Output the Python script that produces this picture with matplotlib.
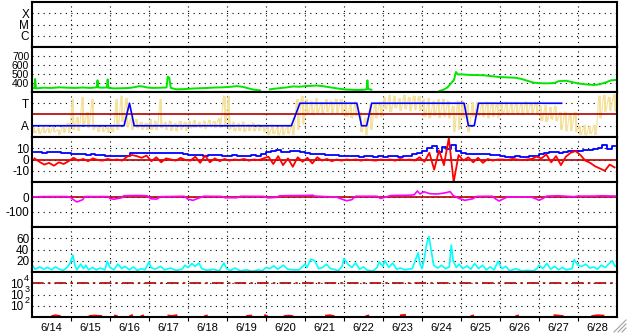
import numpy as np
from matplotlib import pyplot as plt
from matplotlib.lines import Line2D

plt.rcParams['font.family'] = ['Liberation Sans', 'DejaVu Sans']

nan = np.nan
day_labels = ['6/14', '6/15', '6/16', '6/17', '6/18', '6/19', '6/20', '6/21',
              '6/22', '6/23', '6/24', '6/25', '6/26', '6/27', '6/28']

# solar wind speed (km/s), time in days from 6/14 00:00
speed_t = [0.0, 0.06, 0.08, 0.1, 0.3, 0.5, 0.7, 0.9, 1.1, 1.3, 1.5, 1.66, 1.68, 1.7, 1.8,
           1.92, 1.94, 1.96, 2.1, 2.3, 2.5, 2.65, 2.75, 2.85, 2.95, 3.1, 3.3, 3.45, 3.48,
           3.52, 3.56, 3.7, 3.9, 4.1, 4.3, 4.5, 4.7, 4.9, 5.1, 5.25, 5.4, 5.55, 5.7, 5.85,
           5.95, 6.1, 6.25, 6.4, 6.55, 6.7, 6.85, 7.0, 7.15, 7.3, 7.45, 7.6, 7.75, 7.9,
           8.05, 8.2, 8.35, 8.5, 8.58, 8.6, 8.62, 8.7, 8.75, 10.45, 10.55, 10.65, 10.75,
           10.82, 10.87, 10.92, 11.05, 11.2, 11.4, 11.6, 11.8, 12.0, 12.2, 12.4, 12.55,
           12.7, 12.85, 13.0, 13.2, 13.4, 13.5, 13.7, 13.85, 14.0, 14.2, 14.4, 14.55,
           14.7, 14.85, 15.0]
speed_v = [340, 345, 445, 340, 348, 345, 352, 348, 345, 350, 345, 352, 430, 350, 348,
           350, 440, 345, 340, 342, 345, 355, 365, 360, 350, 345, 348, 350, 470,
           460, 345, 330, 332, 338, 342, 345, 350, 352, 358, 365, 358, 340, 325, 318,
           nan, 330, 338, 345, 352, 362, 358, 365, 368, 372, 365, 355, 345, 335,
           328, 325, 322, 325, 330, 430, 335, 325, nan, 312, 325, 350, 400,
           435, 522, 495, 495, 490, 488, 485, 475, 466, 462, 458, 445,
           425, 405, 398, 396, 400, 420, 425, 410, 395, 385, 378, 385,
           405, 430, 435]

# IMF phi angle range (deg), 3-hourly low / high
phi_lo = [30, 25, 35, 30, 40, 20, 35, 30,
          60, 50, 90, 70, 60, 40, 40, 35,
          40, 60, 120, 80, 60, 70, 60, 55,
          60, 55, 70, 60, 50, 45, 60, 50,
          70, 75, 70, 65, 80, 70, 75, 80,
          60, 45, 50, 43, 50, 45, 50, 40,
          20, 25, 16, 20, 25, 20, 60, 100,
          180, 176, 190, 180, 200, 185, 190, 180,
          160, 150, 170, 40, 16, 60, 150, 160,
          220, 203, 230, 210, 220, 205, 215, 210,
          160, 150, 170, 155, 160, 150, 40, 60,
          150, 40, 160, 170, 160, 150, 160, 155,
          180, 176, 185, 180, 176, 180, 185, 180,
          130, 123, 140, 125, 60, 45, 50, 43,
          20, 16, 25, 20, 150, 203, 210, 205]
phi_hi = [80, 70, 90, 75, 85, 60, 85, 110,
          300, 160, 320, 200, 300, 90, 95, 80,
          90, 300, 330, 310, 150, 140, 120, 110,
          140, 130, 300, 120, 130, 110, 125, 120,
          130, 136, 120, 130, 136, 125, 150, 330,
          330, 120, 110, 123, 100, 115, 100, 90,
          90, 96, 80, 90, 85, 95, 300, 330,
          300, 290, 309, 280, 300, 290, 305, 300,
          280, 270, 283, 200, 150, 260, 270, 280,
          320, 336, 330, 310, 336, 320, 330, 325,
          300, 309, 290, 300, 305, 290, 250, 290,
          290, 260, 280, 283, 270, 280, 275, 270,
          280, 283, 275, 280, 270, 283, 275, 280,
          250, 256, 240, 250, 200, 203, 190, 200,
          90, 96, 85, 95, 330, 336, 320, 340]

# sector polarity (A=90, T=270)
sector_t = [0, 2.36, 2.5, 2.62, 6.65, 6.87, 8.33, 8.45, 8.58, 8.71, 11.08, 11.19, 11.34, 11.45, 13.58]
sector_v = [90, 90, 270, 90, 90, 270, 270, 90, 90, 270, 270, 90, 90, 270, 270]

# IMF Bt and Bz (nT), 3-hourly
bt = [6.5, 6.8, 6.2, 6.5, 7.0, 6.6, 6.0, 5.5,
      5.0, 4.5, 5.2, 4.0, 4.6, 3.8, 4.2, 3.5,
      3.2, 3.0, 2.8, 3.4, 5.5, 6.0, 6.2, 5.8,
      6.0, 5.8, 6.2, 5.6, 6.0, 5.5, 5.8, 5.2,
      4.0, 4.2, 3.8, 3.5, 4.0, 3.6, 3.8, 3.2,
      3.5, 3.8, 3.2, 3.0, 3.4, 3.6, 3.0, 4.5,
      6.5, 7.8, 8.5, 7.0, 6.8, 7.5, 7.2, 6.8,
      5.5, 5.0, 4.5, 4.8, 4.2, 4.0, 3.8, 3.5,
      3.0, 2.8, 3.2, 2.6, 3.0, 2.8, 2.5, 2.8,
      2.6, 3.0, 2.8, 2.5, 3.0, 3.5, 5.0, 6.0,
      8.0, 10.0, 12.0, 7.0, 11.5, 9.0, 12.5, 8.0,
      5.5, 5.0, 4.5, 5.2, 4.8, 4.5, 4.0, 4.2,
      3.0, 2.6, 2.5, 2.8, 2.4, 2.6, 3.0, 3.4,
      4.5, 5.5, 6.5, 7.0, 6.0, 6.5, 7.5, 8.0,
      8.0, 8.5, 8.2, 9.0, 10.5, 13.0, 9.5, 12.0]
bz = [1.0, -2.0, -4.5, -3.0, -5.5, -2.5, -4.0, -1.5,
      1.5, -1.0, 0.5, -1.5, 1.0, -0.5, -1.0, 0.5,
      -0.5, 0.0, -1.0, 2.5, 4.0, 3.0, 1.5, 3.5,
      -1.5, 2.0, -2.5, 1.0, 0.0, -1.0, 1.5, -0.5,
      -1.0, 2.5, -3.0, 3.5, -2.5, 1.0, -1.5, 0.5,
      -1.0, 0.0, -0.5, 0.5, -1.0, 0.0, -0.5, 1.0,
      2.5, -4.0, 3.0, -5.0, 1.0, -6.5, 2.0, -2.0,
      1.5, -3.5, 2.0, -1.0, 0.5, -1.5, 0.0, -1.0,
      0.0, -0.5, 0.0, -1.0, 0.0, -0.5, -1.0, 0.0,
      -0.5, 0.0, -1.0, 0.5, -0.5, 0.0, -1.0, 2.0,
      -2.0, 6.0, -9.0, 8.0, -5.0, 19.0, -20.0, 4.0,
      -1.0, 2.0, -2.5, 1.5, -3.0, 0.5, -1.0, 0.0,
      0.0, -0.5, 0.5, 0.0, -0.5, 0.0, 0.5, 2.5,
      1.0, 4.5, -2.5, 3.0, -5.0, 2.5, 6.0, 7.5,
      4.0, -1.0, -3.0, -6.0, -8.0, -10.0, -4.5, -7.0]

# Dst (nT)
dst_t = [0.0, 0.3, 0.9, 1.0, 1.1, 1.15, 1.3, 1.35, 1.95, 2.0, 2.1, 2.3, 2.35, 2.7, 2.95,
         3.05, 3.2, 3.3, 3.9, 4.0, 4.13, 4.3, 4.4, 4.85, 4.95, 5.25, 5.35, 5.95, 6.05,
         6.25, 6.35, 7.0, 7.2, 7.25, 7.6, 7.8, 7.95, 8.07, 8.2, 8.3, 8.85, 8.93, 9.05,
         9.2, 9.7, 9.8, 9.88, 9.95, 10.05, 10.2, 10.4, 10.6, 10.72, 10.8, 10.95, 11.1,
         11.3, 11.4, 11.8, 11.9, 11.98, 12.1, 12.2, 12.8, 12.9, 13.0, 13.1, 13.2, 13.5,
         13.9, 14.0, 14.4, 14.6, 15.0]
dst_v = [0, 3, 3, -5, -25, -33, -18, 3, 3, -10, -15, -5, 8, 10, 8,
         -12, -14, 2, 5, -15, -22, -5, 5, 4, -5, -5, 5, 4, -6,
         -3, 8, 10, 12, 6, 2, 0, -15, -25, -18, 5, 5, -10, -2,
         10, 12, 15, 40, 20, 35, 22, 20, 28, 36, 10, -10, -22,
         -12, 4, 5, -15, -27, -10, 0, 0, -10, -22, -10, 6, 8,
         2, 6, 6, 8, 6]

# Kp-like index
kp_t = [0.0, 0.08, 0.2, 0.3, 0.4, 0.5, 0.6, 0.7, 0.8, 0.9, 0.97, 1.05, 1.1, 1.15, 1.25,
        1.32, 1.38, 1.45, 1.55, 1.65, 1.75, 1.87, 1.93, 2.0, 2.1, 2.2, 2.3, 2.38, 2.5,
        2.6, 2.7, 2.8, 2.9, 3.0, 3.05, 3.15, 3.3, 3.4, 3.55, 3.7, 3.85, 3.92, 4.0, 4.1,
        4.18, 4.28, 4.35, 4.5, 4.65, 4.8, 4.92, 5.0, 5.1, 5.2, 5.35, 5.5, 5.65, 5.8,
        5.9, 6.0, 6.1, 6.2, 6.3, 6.45, 6.55, 6.7, 6.85, 7.0, 7.05, 7.15, 7.25, 7.35,
        7.45, 7.55, 7.65, 7.75, 7.85, 7.95, 8.0, 8.1, 8.2, 8.3, 8.4, 8.5, 8.6, 8.75,
        8.85, 8.9, 9.0, 9.05, 9.15, 9.25, 9.35, 9.45, 9.55, 9.65, 9.75, 9.9, 9.95, 10.0,
        10.05, 10.12, 10.18, 10.22, 10.3, 10.4, 10.5, 10.6, 10.7, 10.75, 10.8, 10.88,
        10.95, 11.05, 11.15, 11.25, 11.35, 11.45, 11.55, 11.65, 11.75, 11.85, 11.95,
        12.05, 12.15, 12.25, 12.4, 12.55, 12.7, 12.85, 12.95, 13.0, 13.1, 13.2, 13.3,
        13.4, 13.5, 13.6, 13.7, 13.85, 13.9, 14.0, 14.1, 14.2, 14.3, 14.4, 14.5, 14.6,
        14.7, 14.8, 14.88, 14.95, 15.0]
kp_v = [13, 5, 9, 5, 8, 4, 9, 5, 3, 8, 15, 30, 12, 4, 14,
        6, 12, 4, 8, 4, 7, 4, 19, 8, 4, 14, 6, 10, 4,
        9, 3, 6, 4, 18, 8, 5, 10, 4, 7, 3, 5, 12, 8, 15,
        10, 16, 6, 3, 5, 2, 16, 5, 3, 7, 2, 4, 1, 4,
        2, 8, 6, 11, 5, 12, 5, 4, 4, 14, 8, 23, 20, 6,
        8, 14, 6, 5, 2, 10, 24, 14, 8, 16, 5, 9, 3, 2,
        8, 18, 10, 20, 8, 16, 5, 7, 4, 5, 6, 34, 14, 6,
        20, 50, 63, 45, 12, 7, 12, 6, 9, 48, 20, 8,
        14, 6, 11, 5, 15, 6, 12, 4, 9, 4, 19,
        6, 10, 2, 6, 2, 3, 2, 6, 12, 6, 15, 5,
        10, 4, 8, 4, 6, 22, 12, 10, 14, 7, 9, 5, 12,
        8, 15, 20, 10, 12]

# proton flux (small bits near the floor)
proton_t = [0.52, 0.6, 0.71, nan, 1.48, 1.6, 1.77, nan, 2.13, 2.17, nan, 2.52, 2.56, nan,
            2.81, 2.85, nan, 3.5, 3.6, 3.7, nan, 4.44, 4.48, nan, 5.52, 5.62, nan, 5.98, 6.02,
            nan, 6.48, 6.58, 6.67, nan, 7.54, 7.64, 7.73, nan, 8.58, 8.62, nan, 9.46, 9.56, nan,
            11.27, 11.31, nan, 12.42, 12.46, nan, 13.4, 13.5, 13.6, nan, 14.37, 14.5, 14.65]
proton_v = [12, 14, 12, nan, 12, 13, 12, nan, 13, 12, nan, 12, 14, nan,
            12, 13, nan, 13, 12, 14, nan, 12, 13, nan, 12, 13, nan, 14, 12,
            nan, 12, 13, 12, nan, 13, 14, 12, nan, 12, 13, nan, 14, 15, nan,
            12, 13, nan, 12, 13, nan, 14, 13, 12, nan, 12, 14, 13]
proton_exp = [2, 3, 4]

t3h = np.arange(len(bt)) / 8.0 + 1 / 16.0

fig = plt.figure(figsize=(6.28, 3.34), dpi=100)
axes = fig.subplots(7, 1, sharex=True, gridspec_kw=dict(hspace=0))
fig.subplots_adjust(left=32/628, right=617/628, top=1-2/334, bottom=1-317/334)

dot_h = (0, (1, 4))
darkred = '#b00000'
for ax in axes:
    ax.set_xlim(0, 15)
    ax.set_xticks(np.arange(15) + 0.5)
    ax.set_xticks(np.arange(1, 15), minor=True)
    ax.grid(axis='x', which='minor', color='k', linestyle=(0, (1, 3)), linewidth=0.8)
    ax.grid(axis='y', which='major', color='k', linestyle=dot_h, linewidth=0.8)
    ax.tick_params(axis='both', which='both', length=0, labelsize=8.5, pad=2)
    ax.tick_params(axis='x', which='both', labelbottom=False)
    for s in ax.spines.values():
        s.set_linewidth(1.5)
    ax.set_axisbelow(True)

# X-ray class
ax = axes[0]
ax.set_yscale('log')
ax.set_ylim(1e-7, 1e-3)
ax.set_yticks([1e-6, 1e-5, 1e-4])
ax.set_yticklabels(['C', 'M', 'X'])
ax.minorticks_off()
ax.set_xticks(np.arange(1, 15), minor=True)

# speed
ax = axes[1]
ax.plot(speed_t, speed_v, color='#00e600', linewidth=1.4)
ax.set_ylim(300, 800)
ax.set_yticks([400, 500, 600, 700])
ax.tick_params(axis='y', labelsize=7.5)

# sector: phi as streaks between low and high, sector polarity on top
ax = axes[2]
yel = '#f6e19a'
ax.vlines(t3h, phi_lo, phi_hi, color=yel, linewidth=1.3)
zig_t = np.ravel(np.column_stack([t3h - 1 / 32.0, t3h + 1 / 32.0]))
zig_v = np.ravel(np.column_stack([phi_hi, phi_lo]))
ax.plot(zig_t, zig_v, color=yel, linewidth=0.8)
ax.axhline(180, color=darkred, linewidth=1.2)
ax.plot(sector_t, sector_v, color='#0000ff', linewidth=1.2)
ax.set_ylim(0, 360)
ax.set_yticks([90, 270])
ax.set_yticklabels(['A', 'T'])

# IMF
ax = axes[3]
ax.axhline(0, color=darkred, linewidth=1.2)
ax.plot(t3h, bt, color='#0000ff', linewidth=1.3, drawstyle='steps-mid')
ax.plot(t3h, bz, color='#ff0000', linewidth=1.3)
ax.set_ylim(-20, 20)
ax.set_yticks([-10, 0, 10])
ax.set_yticklabels(['-10', '0', '10'])

# Dst
ax = axes[4]
ax.axhline(0, color=darkred, linewidth=1.2)
ax.plot(dst_t, dst_v, color='#ff00ff', linewidth=1.2)
ax.set_ylim(-200, 100)
ax.set_yticks([-100, 0])
ax.set_yticklabels(['-100', '0'])

# Kp
ax = axes[5]
ax.plot(kp_t, kp_v, color='#00ffff', linewidth=1.2)
ax.set_ylim(0, 80)
ax.set_yticks([20, 40, 60])

# protons
ax = axes[6]
ax.set_yscale('log')
ax.set_ylim(10, 1e5)
ax.axhline(1e4, color=darkred, linewidth=1.2, linestyle=(0, (7, 2.5, 1.5, 2.5)))
ax.plot(proton_t, proton_v, color='#ff0000', linewidth=1.5)
ax.set_yticks([10.0 ** e for e in proton_exp])
ax.set_yticklabels(['10'] * len(proton_exp), fontsize=8.5)
ax.tick_params(axis='y', pad=6)
for e in proton_exp:
    ax.annotate(str(e), xy=(0, 10.0 ** e), xycoords=('axes fraction', 'data'),
                xytext=(-2, 0.5), textcoords='offset points', ha='right', va='bottom',
                fontsize=6.5)
ax.minorticks_off()
ax.set_xticks(np.arange(1, 15), minor=True)
ax.grid(axis='x', which='minor', color='k', linestyle=(0, (1, 3)), linewidth=0.8)
ax.tick_params(axis='x', which='both', labelbottom=True, labelsize=8, pad=4)
ax.tick_params(axis='x', which='minor', length=3, width=0.8, direction='out')
ax.set_xticklabels(day_labels)

# window resize grip
for k in range(3):
    d = (4 + 4 * k) / 628
    fig.add_artist(Line2D([1 - 2/628 - d, 1 - 2/628], [2/334, 2/334 + d * 628/334],
                          transform=fig.transFigure, color='#a0a0a0', linewidth=0.8))

fig.savefig('out.png', dpi=100)
